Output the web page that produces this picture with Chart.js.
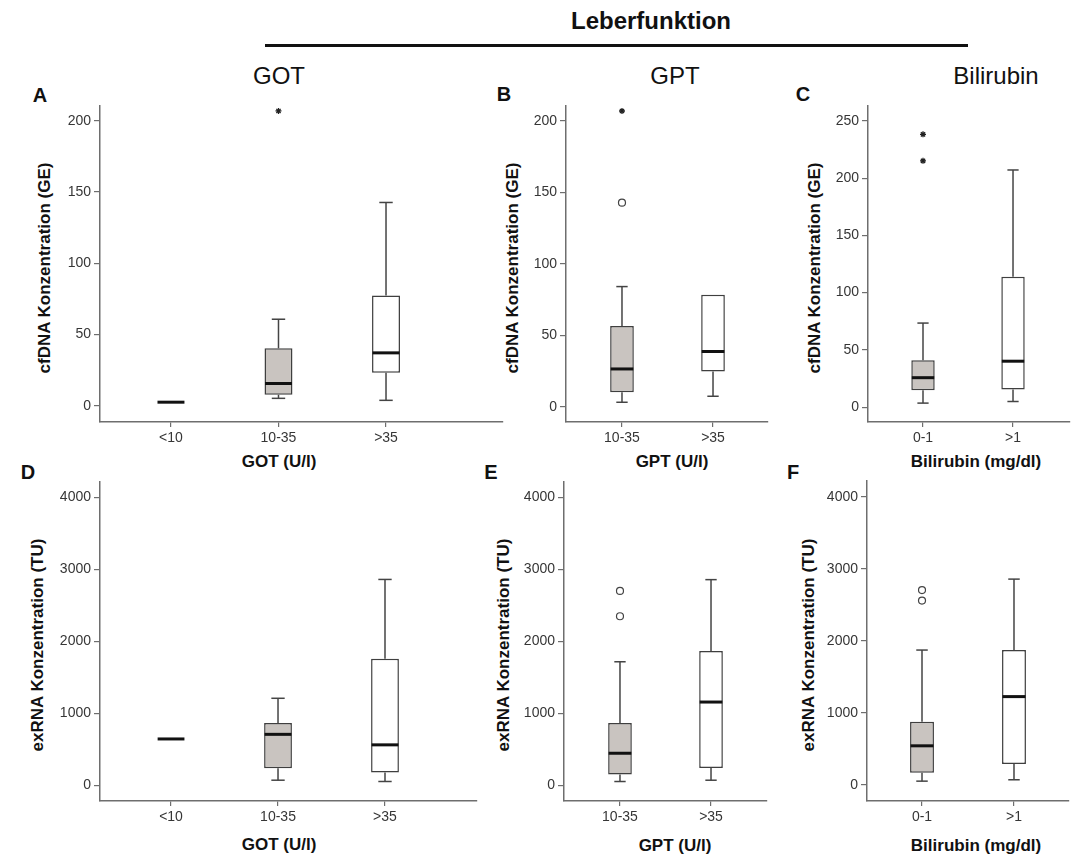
<!DOCTYPE html>
<html>
<head>
<meta charset="utf-8">
<script src="https://cdn.jsdelivr.net/npm/chart.js@4.4.1/dist/chart.umd.min.js"></script>
<style>
  body { margin: 0; background: #fff; }
  #page { position: relative; width: 1082px; height: 857px; overflow: hidden;
          font-family: "Liberation Sans", Arial, sans-serif; color: #111; }
  .t { position: absolute; transform: translate(-50%, -50%); white-space: nowrap; line-height: 1; }
  .v { transform: translate(-50%, -50%) rotate(-90deg); }
  .b { font-weight: bold; }
  canvas { position: absolute; }
</style>
</head>
<body>
<div id="page">
  <div class="t b" style="left:651px;top:21px;font-size:24px;">Leberfunktion</div>
  <div style="position:absolute;left:265px;top:44px;width:703px;height:3px;background:#111;"></div>

  <div class="t" style="left:279px;top:76px;font-size:24px;">GOT</div>
  <div class="t" style="left:675px;top:76px;font-size:24px;">GPT</div>
  <div class="t" style="left:996px;top:76px;font-size:24px;">Bilirubin</div>

  <div class="t b" style="left:40px;top:95px;font-size:20px;">A</div>
  <div class="t b" style="left:504px;top:94px;font-size:20px;">B</div>
  <div class="t b" style="left:803px;top:94px;font-size:20px;">C</div>
  <div class="t b" style="left:28px;top:472px;font-size:20px;">D</div>
  <div class="t b" style="left:491px;top:472px;font-size:20px;">E</div>
  <div class="t b" style="left:793px;top:472px;font-size:20px;">F</div>

  <div class="t v b" style="left:44px;top:268px;font-size:17px;">cfDNA Konzentration (GE)</div>
  <div class="t v b" style="left:512px;top:268px;font-size:17px;">cfDNA Konzentration (GE)</div>
  <div class="t v b" style="left:814px;top:268px;font-size:17px;">cfDNA Konzentration (GE)</div>
  <div class="t v b" style="left:37px;top:645px;font-size:17px;">exRNA Konzentration (TU)</div>
  <div class="t v b" style="left:503px;top:645px;font-size:17px;">exRNA Konzentration (TU)</div>
  <div class="t v b" style="left:808px;top:645px;font-size:17px;">exRNA Konzentration (TU)</div>

  <div class="t b" style="left:279px;top:461px;font-size:17px;">GOT (U/l)</div>
  <div class="t b" style="left:672px;top:461px;font-size:17px;">GPT (U/l)</div>
  <div class="t b" style="left:976px;top:461px;font-size:17px;">Bilirubin (mg/dl)</div>
  <div class="t b" style="left:279px;top:844px;font-size:17px;">GOT (U/l)</div>
  <div class="t b" style="left:675px;top:845px;font-size:17px;">GPT (U/l)</div>
  <div class="t b" style="left:976px;top:845px;font-size:17px;">Bilirubin (mg/dl)</div>
</div>

<script>
// categories and tick labels
const gotCats = ['<10', '10-35', '>35'];
const gptCats = ['10-35', '>35'];
const biliCats = ['0-1', '>1'];

const cfdnaTicks = [0, 50, 100, 150, 200];
const cfdnaBiliTicks = [0, 50, 100, 150, 200, 250];
const exrnaTicks = [0, 1000, 2000, 3000, 4000];

// A: cfDNA vs GOT
const cfGotLo  = [2.6, 5.3, 3.9];
const cfGotQ1  = [2.6, 7.8, 23.3];
const cfGotMed = [2.6, 15.7, 37.2];
const cfGotQ3  = [2.6, 40.4, 77.4];
const cfGotHi  = [2.6, 60.8, 142.7];
const cfGotOut = [];
const cfGotExt = [[1, 206.9]];

// B: cfDNA vs GPT
const cfGptLo  = [3.2, 7.4];
const cfGptQ1  = [10.2, 24.7];
const cfGptMed = [26.5, 38.7];
const cfGptQ3  = [56.5, 78.4];
const cfGptHi  = [84.1, 78.4];
const cfGptOut = [[0, 142.8]];
const cfGptExt = [[0, 206.9]];

// C: cfDNA vs Bilirubin
const cfBiliLo  = [3.5, 4.9];
const cfBiliQ1  = [14.7, 15.3];
const cfBiliMed = [25.7, 40.1];
const cfBiliQ3  = [40.9, 113.8];
const cfBiliHi  = [73.4, 207.1];
const cfBiliOut = [];
const cfBiliExt = [[0, 238.2], [0, 215.1]];

// D: exRNA vs GOT
const exGotLo  = [642, 69, 51];
const exGotQ1  = [642, 234, 175];
const exGotMed = [642, 706, 560];
const exGotQ3  = [642, 863, 1757];
const exGotHi  = [642, 1207, 2858];
const exGotOut = [];
const exGotExt = [];

// E: exRNA vs GPT
const exGptLo  = [51, 69];
const exGptQ1  = [147, 238];
const exGptMed = [444, 1156];
const exGptQ3  = [863, 1867];
const exGptHi  = [1716, 2858];
const exGptOut = [[0, 2701], [0, 2349]];
const exGptExt = [];

// F: exRNA vs Bilirubin
const exBiliLo  = [50, 69];
const exBiliQ1  = [165, 289];
const exBiliMed = [541, 1225];
const exBiliQ3  = [875, 1872];
const exBiliHi  = [1872, 2858];
const exBiliOut = [[0, 2706], [0, 2560]];
const exBiliExt = [];

const GRAY = '#c9c4c0';
const WHITE = '#ffffff';
const FONT = '"Liberation Sans", Arial, sans-serif';
const page = document.getElementById('page');

function buildPanel(p) {
  const padL = 52, padT = 8, padR = 6, padB = 30;
  const left = p.axisX - padL, top = p.top - padT;
  const w = p.right + padR - left, h = p.bottom + padB - top;
  const cv = document.createElement('canvas');
  cv.width = w; cv.height = h;
  cv.style.left = left + 'px'; cv.style.top = top + 'px';
  cv.style.width = w + 'px'; cv.style.height = h + 'px';
  page.appendChild(cv);

  // whiskers under the boxes, medians on top
  const boxPlugin = {
    id: 'boxWhisker',
    beforeDatasetsDraw(chart) {
      const {ctx, scales: {x, y}} = chart;
      const bars = chart.getDatasetMeta(2).data;
      ctx.save();
      ctx.strokeStyle = '#444';
      ctx.lineWidth = 1.5;
      const line = (x1, y1, x2, y2) => { ctx.beginPath(); ctx.moveTo(x1, y1); ctx.lineTo(x2, y2); ctx.stroke(); };
      p.cats.forEach((c, i) => {
        const cx = x.getPixelForValue(i);
        const cap = bars[i].width * 0.24;
        if (p.lo[i] < p.q1[i]) {
          line(cx, y.getPixelForValue(p.lo[i]), cx, y.getPixelForValue(p.q1[i]));
          line(cx - cap, y.getPixelForValue(p.lo[i]), cx + cap, y.getPixelForValue(p.lo[i]));
        }
        if (p.hi[i] > p.q3[i]) {
          line(cx, y.getPixelForValue(p.hi[i]), cx, y.getPixelForValue(p.q3[i]));
          line(cx - cap, y.getPixelForValue(p.hi[i]), cx + cap, y.getPixelForValue(p.hi[i]));
        }
      });
      ctx.restore();
    },
    afterDatasetsDraw(chart) {
      const {ctx, scales: {x, y}} = chart;
      const bars = chart.getDatasetMeta(2).data;
      ctx.save();
      ctx.strokeStyle = '#111';
      ctx.lineWidth = 3;
      p.cats.forEach((c, i) => {
        const cx = x.getPixelForValue(i);
        const hw = bars[i].width / 2 - 0.5;
        const my = y.getPixelForValue(p.med[i]);
        ctx.beginPath(); ctx.moveTo(cx - hw, my); ctx.lineTo(cx + hw, my); ctx.stroke();
      });
      ctx.restore();
    }
  };

  const axisGrid = len => ({ drawOnChartArea: false, drawTicks: true, tickLength: len, color: '#6e6e6e', lineWidth: 1.2, offset: false });
  const axisBorder = { display: true, color: '#6e6e6e', width: 1.5 };
  const tickFont = { family: FONT, size: 14 };

  new Chart(cv, {
    type: 'bar',
    data: {
      datasets: [
        {
          type: 'scatter',
          data: p.out.map(o => ({x: o[0], y: o[1]})),
          pointStyle: 'circle', pointRadius: 3.5,
          pointBorderColor: '#444', pointBackgroundColor: '#fff', pointBorderWidth: 1.2
        },
        {
          type: 'scatter',
          data: p.ext.map(o => ({x: o[0], y: o[1]})),
          pointStyle: 'star', pointRadius: 3,
          pointBorderColor: '#222', pointBackgroundColor: '#222', pointBorderWidth: 1.3
        },
        {
          type: 'bar',
          data: p.cats.map((c, i) => ({x: i, y: [p.q1[i], p.q3[i]]})),
          backgroundColor: p.fills,
          borderColor: '#3f3f3f',
          borderWidth: 1.5,
          borderSkipped: false,
          barPercentage: 0.26,
          categoryPercentage: 1
        }
      ]
    },
    options: {
      responsive: false,
      animation: false,
      events: [],
      layout: { padding: { top: padT, right: padR, left: 0, bottom: 0 } },
      plugins: { legend: { display: false }, tooltip: { enabled: false } },
      scales: {
        x: {
          type: 'linear', min: p.xMin, max: p.xMax, offset: false,
          afterFit: s => { s.height = padB; },
          afterBuildTicks: s => { s.ticks = p.cats.map((c, i) => ({value: i})); },
          ticks: { callback: (v, i) => p.cats[i], font: tickFont, color: '#363636', padding: 3, maxRotation: 0, autoSkip: false },
          grid: axisGrid(5),
          border: axisBorder
        },
        y: {
          type: 'linear', min: p.yMin, max: p.yMax, beginAtZero: false,
          afterFit: s => { s.width = padL; },
          afterBuildTicks: s => { s.ticks = p.ticks.map(v => ({value: v})); },
          ticks: { callback: v => String(v), font: tickFont, color: '#363636', padding: 3 },
          grid: axisGrid(6),
          border: axisBorder
        }
      }
    },
    plugins: [boxPlugin]
  });
}

const panels = [
  { cats: gotCats, lo: cfGotLo, q1: cfGotQ1, med: cfGotMed, q3: cfGotQ3, hi: cfGotHi, out: cfGotOut, ext: cfGotExt,
    ticks: cfdnaTicks, fills: [GRAY, GRAY, WHITE],
    axisX: 100, right: 503, top: 102, bottom: 422, yMin: -11.3, yMax: 210.8, xMin: -0.66, xMax: 3.088 },
  { cats: gptCats, lo: cfGptLo, q1: cfGptQ1, med: cfGptMed, q3: cfGptQ3, hi: cfGptHi, out: cfGptOut, ext: cfGptExt,
    ticks: cfdnaTicks, fills: [GRAY, WHITE],
    axisX: 566, right: 768, top: 102, bottom: 422, yMin: -10.6, yMax: 210.8, xMin: -0.615, xMax: 1.604 },
  { cats: biliCats, lo: cfBiliLo, q1: cfBiliQ1, med: cfBiliMed, q3: cfBiliQ3, hi: cfBiliHi, out: cfBiliOut, ext: cfBiliExt,
    ticks: cfdnaBiliTicks, fills: [GRAY, WHITE],
    axisX: 868, right: 1070, top: 102, bottom: 422, yMin: -13, yMax: 263.5, xMin: -0.611, xMax: 1.633 },
  { cats: gotCats, lo: exGotLo, q1: exGotQ1, med: exGotMed, q3: exGotQ3, hi: exGotHi, out: exGotOut, ext: exGotExt,
    ticks: exrnaTicks, fills: [GRAY, GRAY, WHITE],
    axisX: 100, right: 477, top: 478, bottom: 801, yMin: -220, yMax: 4220, xMin: -0.664, xMax: 2.86 },
  { cats: gptCats, lo: exGptLo, q1: exGptQ1, med: exGptMed, q3: exGptQ3, hi: exGptHi, out: exGptOut, ext: exGptExt,
    ticks: exrnaTicks, fills: [GRAY, WHITE],
    axisX: 564, right: 767, top: 478, bottom: 801, yMin: -220, yMax: 4224, xMin: -0.615, xMax: 1.615 },
  { cats: biliCats, lo: exBiliLo, q1: exBiliQ1, med: exBiliMed, q3: exBiliQ3, hi: exBiliHi, out: exBiliOut, ext: exBiliExt,
    ticks: exrnaTicks, fills: [GRAY, WHITE],
    axisX: 867, right: 1069, top: 477, bottom: 801, yMin: -226, yMax: 4230, xMin: -0.598, xMax: 1.598 }
];

panels.forEach(buildPanel);
</script>
</body>
</html>
